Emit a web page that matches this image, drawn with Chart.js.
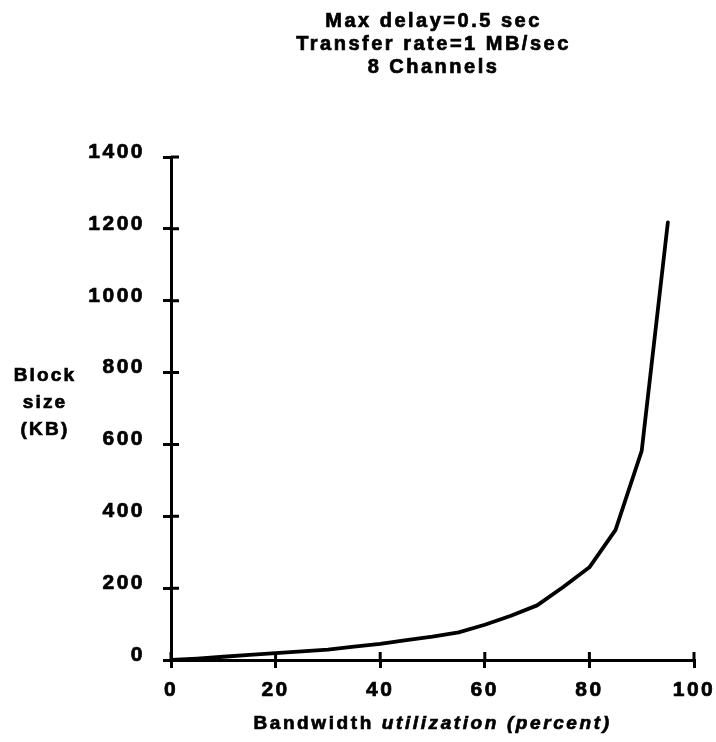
<!DOCTYPE html>
<html>
<head>
<meta charset="utf-8">
<title>Block size vs bandwidth utilization</title>
<script src="https://cdn.jsdelivr.net/npm/chart.js@4.4.1/dist/chart.umd.min.js"></script>
<style>
  html, body { margin: 0; padding: 0; background: #fff; }
  #wrap { position: relative; width: 716px; height: 742px; }
</style>
</head>
<body>
<div id="wrap"><canvas id="chart"></canvas></div>
<script>
// bandwidth utilization (percent) and resulting block size (KB)
const utilization = [0, 5, 10, 15, 20, 25, 30, 35, 40, 45, 50, 55, 60, 65, 70, 75, 80, 85, 90, 95];
const blockSize   = [0, 4, 9, 14, 19, 24, 29, 37, 45, 55, 65, 77, 98, 123, 152, 203, 258, 362, 582, 1218];

const xTickValues = [0, 20, 40, 60, 80, 100];
const yTickValues = [0, 200, 400, 600, 800, 1000, 1200, 1400];

const titleLines = ['Max delay=0.5 sec', 'Transfer rate=1 MB/sec', '8 Channels'];
const yLabelLines = ['Block', 'size', '(KB)'];
const xLabelUpright = 'Bandwidth ';
const xLabelItalic = 'utilization (percent)';

const FONT = '"Liberation Sans", Arial, Helvetica, sans-serif';

// old plotter look: wide tracking on all text
const spacing = {
  id: 'spacing',
  beforeUpdate(chart) { chart.ctx.letterSpacing = '2.5px'; },
  beforeDraw(chart) { chart.ctx.letterSpacing = '2.5px'; }
};

// tick marks cross the axis, so add the inner half too
const crossTicks = {
  id: 'crossTicks',
  afterDraw(chart) {
    const { ctx, chartArea: a, scales: { x, y } } = chart;
    ctx.save();
    ctx.strokeStyle = '#000';
    ctx.lineWidth = 3;
    ctx.beginPath();
    x.ticks.forEach(t => {
      const px = x.getPixelForValue(t.value);
      ctx.moveTo(px, a.bottom);
      ctx.lineTo(px, a.bottom - 8);
    });
    y.ticks.forEach(t => {
      const py = y.getPixelForValue(t.value);
      ctx.moveTo(a.left, py);
      ctx.lineTo(a.left + 8, py);
    });
    ctx.stroke();
    ctx.restore();
  }
};

// heavy text: fill plus a thin outline
function heavyText(ctx, s, x, y) {
  ctx.fillText(s, x, y);
  ctx.strokeText(s, x, y);
}

// title block, horizontal y label on the left, mixed upright/italic x label
const labels = {
  id: 'labels',
  afterDraw(chart) {
    const { ctx, chartArea: a, scales: { y } } = chart;
    const cx = (a.left + a.right) / 2;
    ctx.save();
    ctx.fillStyle = '#000';
    ctx.strokeStyle = '#000';
    ctx.lineWidth = 0.7;
    ctx.textBaseline = 'middle';
    ctx.textAlign = 'center';

    ctx.letterSpacing = '2.5px';
    ctx.font = `bold 20px ${FONT}`;
    titleLines.forEach((s, i) => heavyText(ctx, s, cx + 1, 21 + i * 23));

    ctx.letterSpacing = '2.2px';
    ctx.font = `bold 19px ${FONT}`;
    const y0 = y.getPixelForValue(800) + 3;
    yLabelLines.forEach((s, i) => heavyText(ctx, s, 45, y0 + i * 27));

    ctx.letterSpacing = '2.6px';
    const up = `bold 19px ${FONT}`;
    const it = `italic bold 19px ${FONT}`;
    ctx.font = up;
    const w1 = ctx.measureText(xLabelUpright).width;
    ctx.font = it;
    const w2 = ctx.measureText(xLabelItalic).width;
    const x0 = cx - (w1 + w2) / 2;
    const ty = chart.height - 18;
    ctx.textAlign = 'left';
    ctx.font = up;
    heavyText(ctx, xLabelUpright, x0, ty);
    ctx.font = it;
    heavyText(ctx, xLabelItalic, x0 + w1, ty);
    ctx.restore();
  }
};

const tickFont = { family: FONT, size: 21, weight: 'bold' };
const tickStyle = {
  color: '#000',
  font: tickFont,
  textStrokeColor: '#000',
  textStrokeWidth: 0.7,
  autoSkip: false,
  callback: v => String(v)
};
const axisGrid = { display: true, drawOnChartArea: false, drawTicks: true, tickLength: 8, lineWidth: 3, color: '#000' };
const axisBorder = { display: true, width: 3, color: '#000' };

new Chart(document.getElementById('chart'), {
  type: 'line',
  data: {
    datasets: [{
      data: utilization.map((u, i) => ({ x: u, y: blockSize[i] })),
      borderColor: '#000',
      borderWidth: 3.8,
      pointRadius: 0,
      tension: 0,
      fill: false,
      borderJoinStyle: 'round',
      borderCapStyle: 'round'
    }]
  },
  options: {
    responsive: true,
    maintainAspectRatio: false,
    animation: false,
    layout: { padding: { left: 0, right: 22, top: 157, bottom: 0 } },
    plugins: {
      legend: { display: false },
      tooltip: { enabled: false },
      title: { display: false }
    },
    scales: {
      x: {
        type: 'linear',
        min: 0,
        max: 100,
        afterBuildTicks: s => { s.ticks = xTickValues.map(v => ({ value: v })); },
        afterFit: s => { s.height = 82; s.paddingLeft = 0; s.paddingRight = 0; },
        ticks: { ...tickStyle, padding: 10, maxRotation: 0 },
        grid: axisGrid,
        border: axisBorder
      },
      y: {
        type: 'linear',
        min: 0,
        max: 1400,
        afterBuildTicks: s => { s.ticks = yTickValues.map(v => ({ value: v })); },
        afterFit: s => { s.width = 171; s.paddingTop = 0; s.paddingBottom = 0; },
        ticks: { ...tickStyle, padding: 18, labelOffset: -5 },
        grid: axisGrid,
        border: axisBorder
      }
    }
  },
  plugins: [spacing, crossTicks, labels]
});
</script>
</body>
</html>
